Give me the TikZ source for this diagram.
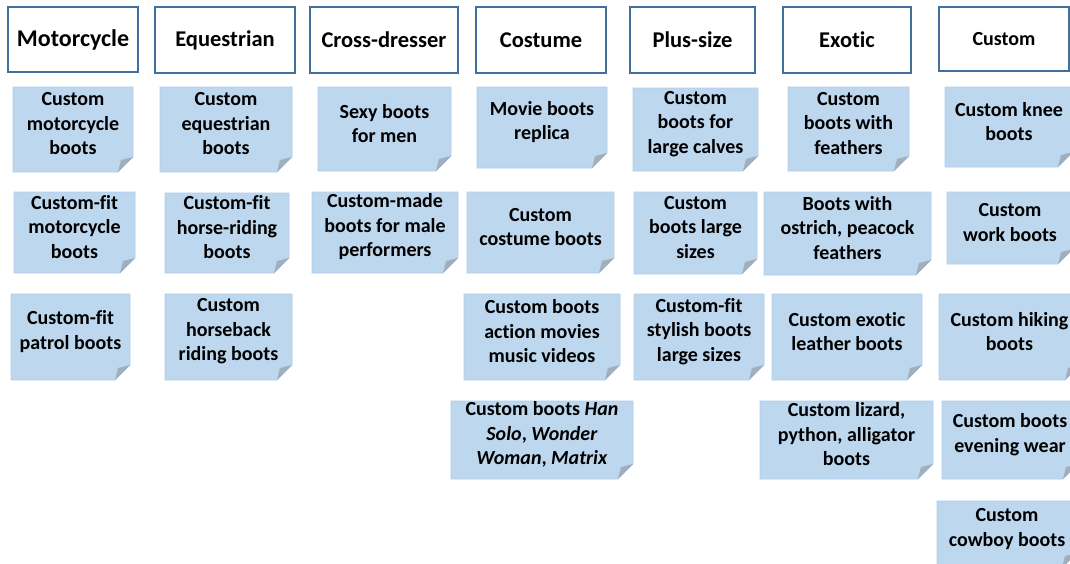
\documentclass[tikz,border=0pt]{standalone}
\usepackage{fontspec}
\setmainfont[Ligatures=NoCommon]{Carlito}
\usepackage{tikz}

\definecolor{headline}{RGB}{67,112,155}
\definecolor{notefill}{RGB}{189,215,238}
\definecolor{noteline}{RGB}{176,204,232}
\definecolor{foldgray}{RGB}{160,174,190}

% sticky note: name, x1, y1, x2, y2, text
\newcommand{\stickynote}[6]{%
  \filldraw[notefill, draw=noteline, line width=0.6pt]
    (#2,#3) -- (#4,#3) -- (#4,#5-15) -- (#4-15,#5) -- (#2,#5) -- cycle;
  \fill[foldgray] (#4,#5-15) -- (#4-15,#5) -- (#4-12,#5-12) -- cycle;
  \node[notetext] (#1) at ({(#2+#4)/2},{(#3+#5)/2-5.5}) {#6};
}

\begin{document}
\begin{tikzpicture}[x=1pt, y=-1pt,
  head/.style={draw=headline, line width=2pt, fill=white, inner sep=0pt,
    font=\bfseries\fontsize{22.5}{27}\selectfont},
  notetext/.style={align=center, inner sep=0pt,
    font=\bfseries\fontsize{20}{24.5}\selectfont}]
\useasboundingbox (0,0) rectangle (1070,563);
\clip (0,0) rectangle (1070,563);

\node[head, minimum width=130pt, minimum height=65pt,
  font=\bfseries\fontsize{24}{28}\selectfont] (moto) at (73,39.5) {Motorcycle};
\node[head, minimum width=140pt, minimum height=66pt] (eque) at (225,40) {Equestrian};
\node[head, minimum width=148pt, minimum height=66pt] (cross) at (384,40) {Cross-dresser};
\node[head, minimum width=130pt, minimum height=66pt] (cost) at (541,40) {Costume};
\node[head, minimum width=125pt, minimum height=66pt] (plus) at (692.5,40) {Plus-size};
\node[head, minimum width=128pt, minimum height=66pt] (exot) at (847,40) {Exotic};
\node[head, minimum width=130pt, minimum height=64pt,
  font=\bfseries\fontsize{20}{24}\selectfont] (cust) at (1004,39) {Custom};

\stickynote{moto1}{13}{87}{133}{172}{Custom\\motorcycle\\boots}
\stickynote{moto2}{14}{192}{135}{273}{Custom-fit\\motorcycle\\boots}
\stickynote{moto3}{11}{294}{130}{380}{Custom-fit\\patrol boots}

\stickynote{eque1}{160}{87}{292}{172}{Custom\\equestrian\\boots}
\stickynote{eque2}{165}{193}{289}{273}{Custom-fit\\horse-riding\\boots}
\stickynote{eque3}{165}{294}{292}{380}{Custom\\horseback\\riding boots}

\stickynote{cross1}{318}{87}{451}{171}{Sexy boots\\for men}
\stickynote{cross2}{312}{192}{458}{273}{Custom-made\\boots for male\\performers}

\stickynote{cost1}{477}{87}{607}{168}{Movie boots\\replica}
\stickynote{cost2}{467}{192}{614}{273}{Custom\\costume boots}
\stickynote{cost3}{464}{294}{620}{380}{Custom boots\\action movies\\music videos}
\stickynote{cost4}{451}{401}{633}{479}{Custom boots \textit{Han}\\\textit{Solo}, \textit{Wonder}\\\textit{Woman}, \textit{Matrix}}

\stickynote{plus1}{633}{88}{758}{171}{Custom\\boots for\\large calves}
\stickynote{plus2}{634}{192}{757}{274}{Custom\\boots large\\sizes}
\stickynote{plus3}{634}{294}{764}{380}{Custom-fit\\stylish boots\\large sizes}

\stickynote{exot1}{788}{87}{909}{171}{Custom\\boots with\\feathers}
\stickynote{exot2}{764}{192}{931}{275}{Boots with\\ostrich, peacock\\feathers}
\stickynote{exot3}{772}{294}{922}{380}{Custom exotic\\leather boots}
\stickynote{exot4}{760}{401}{933}{479}{Custom lizard,\\python, alligator\\boots}

\stickynote{cust1}{945}{87}{1073}{167}{Custom knee\\boots}
\stickynote{cust2}{947}{192}{1073}{264}{Custom\\work boots}
\stickynote{cust3}{939}{294}{1080}{380}{Custom hiking\\boots}
\stickynote{cust4}{942}{401}{1078}{479}{Custom boots\\evening wear}
\stickynote{cust5}{937}{501}{1077}{568}{Custom\\cowboy boots}

\end{tikzpicture}
\end{document}
